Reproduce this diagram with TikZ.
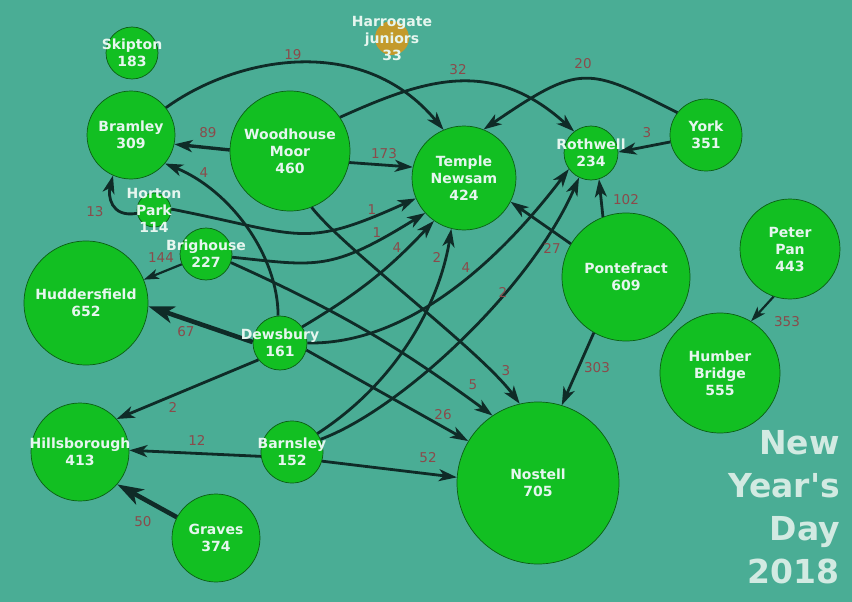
\documentclass[tikz,border=0pt]{standalone}
\usepackage{fontspec}
\setmainfont{DejaVu Sans}
\usetikzlibrary{arrows.meta}
\definecolor{bgteal}{HTML}{4AAD95}
\definecolor{citygreen}{HTML}{12BF22}
\definecolor{cityrim}{HTML}{0B5E14}
\definecolor{flowdark}{HTML}{0F2B27}
\definecolor{wtred}{HTML}{8A4B4B}
\definecolor{citytxt}{HTML}{E6F6EF}
\definecolor{harrogold}{HTML}{C39A2B}
\definecolor{titletxt}{HTML}{D2EAE2}
\begin{document}
\begin{tikzpicture}[x=1pt,y=-1pt,
  city/.style={circle, fill=citygreen, draw=cityrim, line width=0.7pt, inner sep=0pt},
  cname/.style={text=citytxt, font=\bfseries\fontsize{14}{17}\selectfont, align=center, inner sep=0pt},
  wt/.style={text=wtred, font=\fontsize{13.5}{16}\selectfont, inner sep=0pt},
  flow/.style={draw=flowdark, line width=2.8pt, -{Stealth[length=18pt,width=12pt,inset=5pt]}},
  lightflow/.style={flow, line width=2.2pt, -{Stealth[length=15pt,width=10pt,inset=4pt]}},
  heavyflow/.style={flow, line width=4.6pt, -{Stealth[length=26pt,width=17pt,inset=7pt]}}]
\useasboundingbox (0,0) rectangle (852,602);
\fill[bgteal] (0,0) rectangle (852,602);

% venues
\foreach \n/\x/\y/\r in {sk/132/53/26, brm/131/135/44, wm/290/151/60, tn/464/178/52,
    rw/591/153/27, yk/706/135/36, hp/154/210/17, bh/206/254/26, hud/86/303/62,
    dew/280/343/27, pf/626/277/64, pp/790/249/50, hb/720/373/60, nos/538/483/81,
    hil/80/452/49, bar/292/452/31, gr/216/538/44}{
  \node[city, minimum size=2*\r pt] (\n) at (\x,\y) {};
}
\node[circle, fill=harrogold, inner sep=0pt, minimum size=34pt] (hg) at (392,38) {};

% flows
\draw[flow, line width=3.4pt] (wm.179) -- (brm.348);
\draw[flow] (brm.38) .. controls (236,57) and (362,32) .. (tn.113);
\draw[flow] (wm.34) .. controls (423,80) and (491,56) .. (rw.128);
\draw[flow] (yk.142) .. controls (587,67) and (581,63) .. (tn.68);
\draw[flow] (yk.191) -- (rw.2);
\draw[flow] (wm.349) -- (tn.168);
\draw[flow] (hp.191) .. controls (110,218) and (108,195) .. (brm.246);
\draw[flow] (hp.3) .. controls (303,235) and (302,250) .. (tn.203);
\draw[flow] (bh.353) .. controls (317,266) and (330,272) .. (tn.222);
\draw[flow] (dew.36) to[bend right=8] (tn.235);
\draw[flow] (bar.36) .. controls (400,380) and (440,300) .. (tn.256);
\draw[flow] (dew.0) .. controls (420,345) and (515,240) .. (rw.216);
\draw[flow] (bar.24) .. controls (400,410) and (530,290) .. (rw.244);
\draw[flow] (pf.149) -- (tn.333);
\draw[flow] (pf.111) -- (rw.287);
\draw[flow] (pf.240) -- (nos.73);
\draw[lightflow] (pp.251) -- (hb.59);
\draw[flow] (wm.291) .. controls (345,250) and (480,350) .. (nos.103);
\draw[flow] (bh.341) to[bend left=6] (nos.124);
\draw[flow] (dew.345) -- (nos.149);
\draw[flow] (bar.343) -- (nos.176);
\draw[flow] (bar.188) -- (hil.2);
\draw[heavyflow] (gr.152) -- (hil.319);
\draw[flow] (dew.218) -- (hil.42);
\draw[heavyflow] (dew.178) -- (hud.357);
\draw[lightflow] (bh.203) -- (hud.22);
\draw[flow] (dew.94) .. controls (278,255) and (230,190) .. (brm.320);

% counts
\foreach \x/\y/\w [count=\i] in {293/55/19, 458/70/32, 583/64/20, 208/133/89, 384/154/173,
    647/133/3, 204/173/4, 95/212/13, 372/210/1, 377/233/1, 161/258/144, 397/248/4,
    437/257/2, 466/268/4, 552/248/27, 626/200/102, 503/292/2, 186/332/67, 597/368/303,
    787/322/353, 506/371/3, 473/385/5, 173/407/2, 443/415/26, 197/440/12, 428/458/52,
    143/522/50}{
  \node[wt] (w\i) at (\x,\y) {\w};
}

% names
\foreach \n/\t in {sk/{Skipton\\183}, brm/{Bramley\\309}, wm/{Woodhouse\\Moor\\460},
    tn/{Temple\\Newsam\\424}, rw/{Rothwell\\234}, yk/{York\\351}, hp/{Horton\\Park\\114},
    bh/{Brighouse\\227}, hud/{Huddersfield\\652}, dew/{Dewsbury\\161}, pf/{Pontefract\\609},
    pp/{Peter\\Pan\\443}, hb/{Humber\\Bridge\\555}, nos/{Nostell\\705},
    hil/{Hillsborough\\413}, bar/{Barnsley\\152}, gr/{Graves\\374}, hg/{Harrogate\\juniors\\33}}{
  \node[cname] (\n-t) at (\n) {\t};
}

\node[text=titletxt, font=\bfseries\fontsize{33}{43}\selectfont, align=right,
  inner sep=0pt, anchor=north east] (title) at (840,430) {New\\Year\textquotesingle s\\Day\\2018};
\end{tikzpicture}
\end{document}
